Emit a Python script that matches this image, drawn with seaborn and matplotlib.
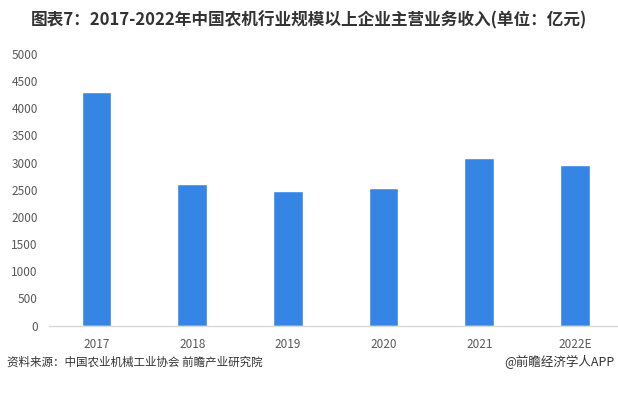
import matplotlib
matplotlib.use('Agg')
import matplotlib.pyplot as plt
import seaborn as sns
import pandas as pd

# data
years = ['2017', '2018', '2019', '2020', '2021', '2022E']
revenue = [4300, 2600, 2470, 2540, 3080, 2950]

df = pd.DataFrame({'year': years, 'revenue': revenue})

sns.set_style('white')
plt.rcParams['font.family'] = ['Noto Sans CJK SC', 'DejaVu Sans']

fig = plt.figure(figsize=(6.18, 3.99), dpi=100)
ax = fig.add_axes([0.079, 0.184, 0.921, 0.681])

sns.barplot(data=df, x='year', y='revenue', color='#3585E5', width=0.31,
            saturation=1, ax=ax)

ax.set_ylim(0, 5000)
ax.set_xlim(-0.5, 5.45)
ax.set_yticks(range(0, 5001, 500))
ax.set_xlabel('')
ax.set_ylabel('')
for s in ['top', 'right', 'left']:
    ax.spines[s].set_visible(False)
ax.spines['bottom'].set_color('#D9D9D9')
ax.spines['bottom'].set_linewidth(1)
ax.tick_params(axis='both', length=0, labelsize=8.5, colors='#595959')
ax.tick_params(axis='x', pad=9)
ax.tick_params(axis='y', pad=8)

fig.text(0.5, 0.95, '图表7：2017-2022年中国农机行业规模以上企业主营业务收入(单位：亿元)',
         ha='center', va='center', fontsize=12, fontweight='bold', color='#333333')
fig.text(0.012, 0.093, '资料来源：中国农业机械工业协会 前瞻产业研究院',
         ha='left', va='center', fontsize=8.3, color='#333333')
fig.text(0.995, 0.093, '@前瞻经济学人APP',
         ha='right', va='center', fontsize=9, color='#333333')

fig.savefig('out.png', dpi=100)
